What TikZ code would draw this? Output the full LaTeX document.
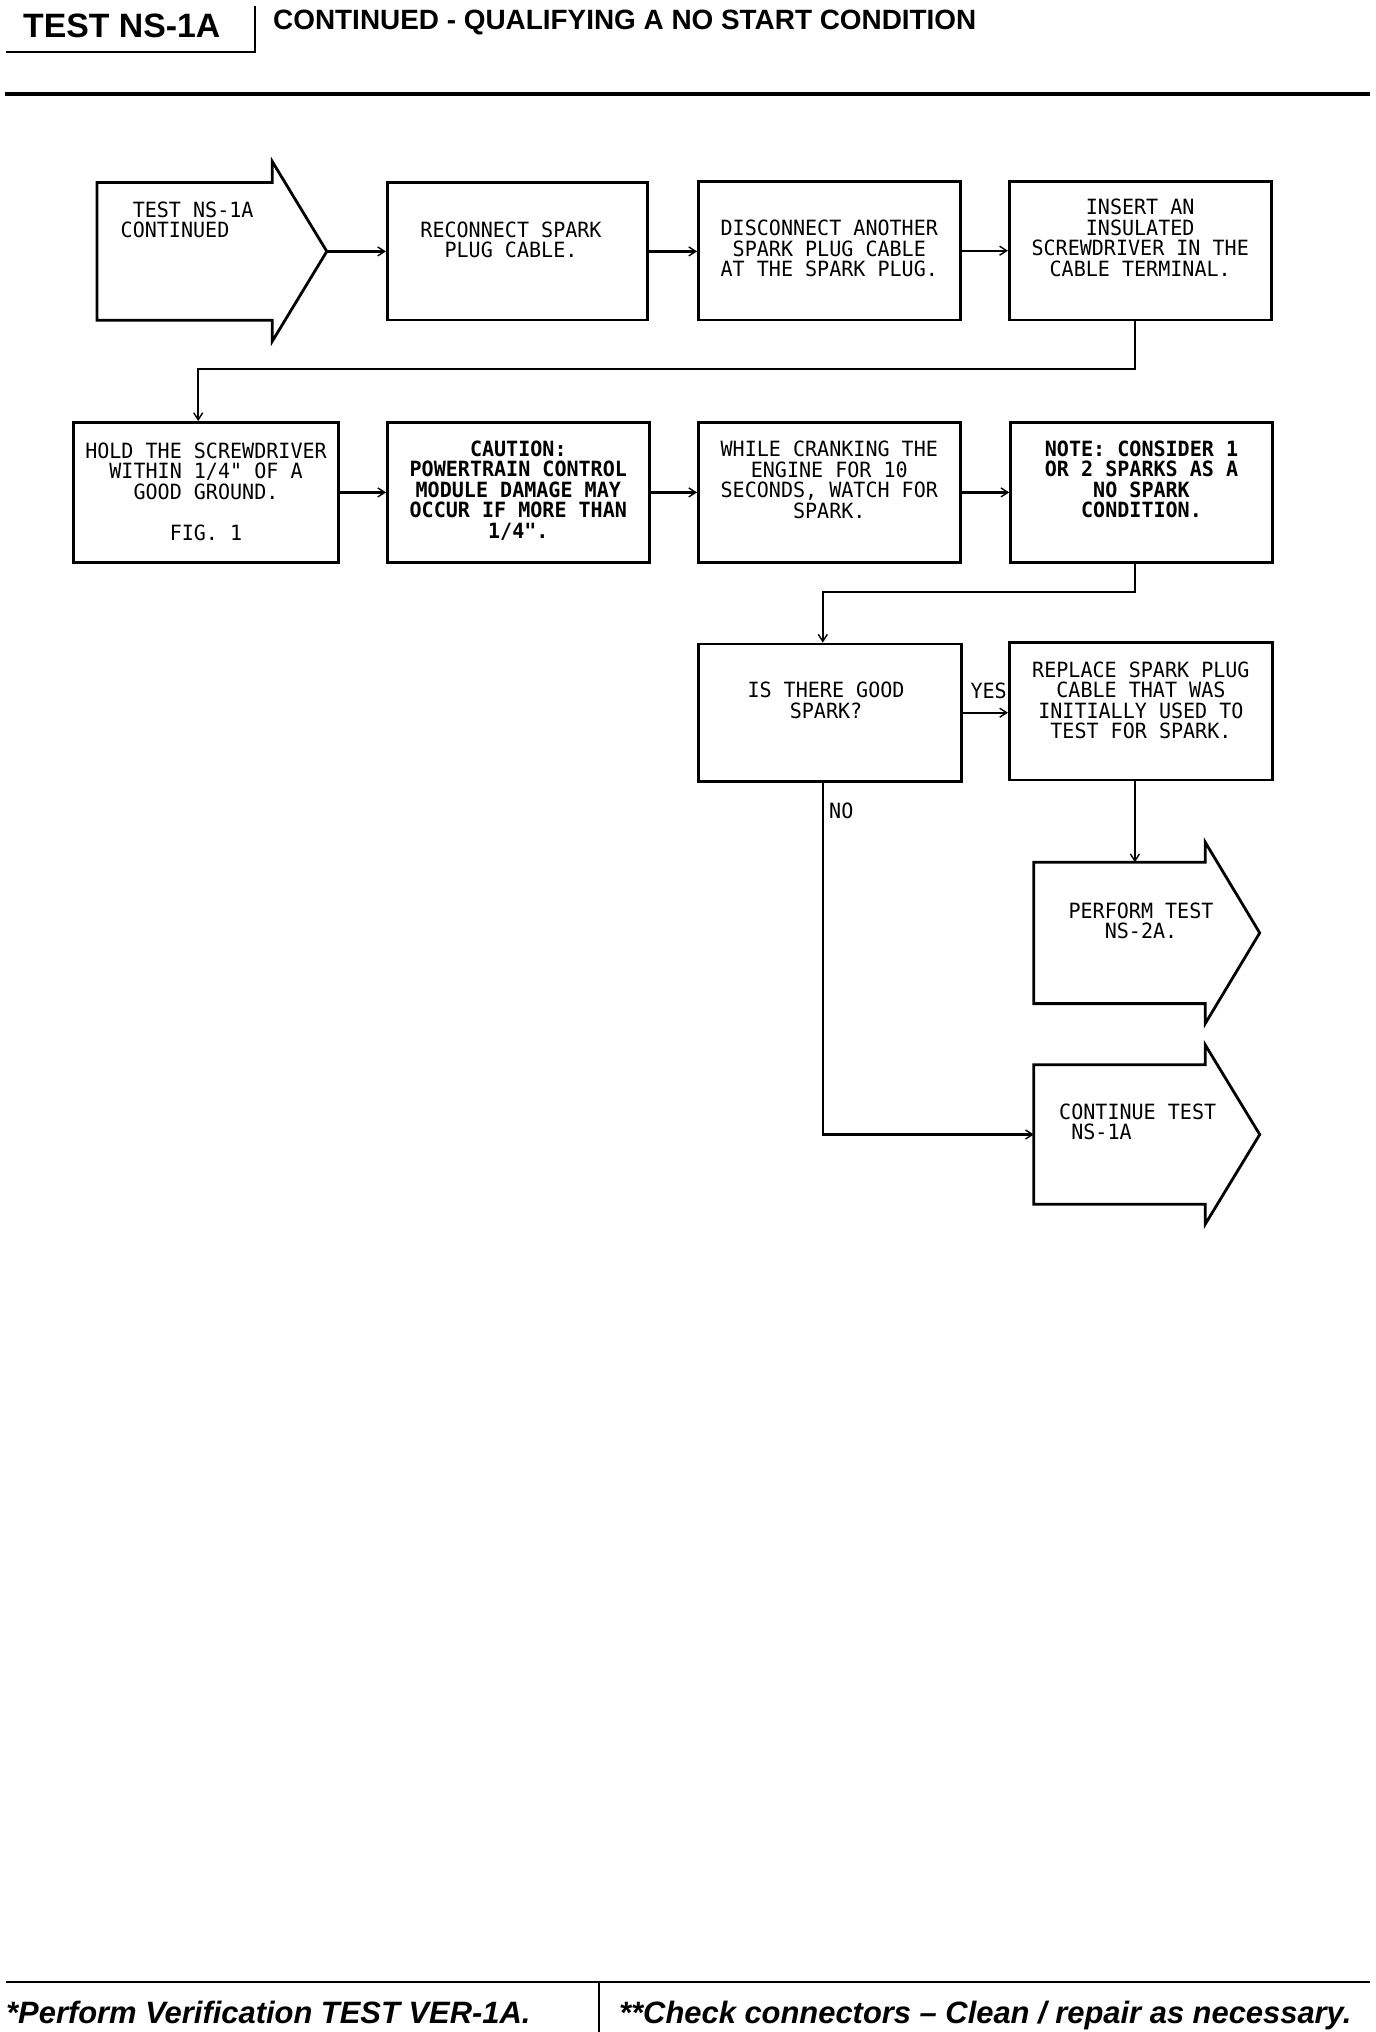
\documentclass[tikz,border=0pt]{standalone}
\usepackage{fontspec}
\usetikzlibrary{arrows.meta,calc}
\newfontfamily\plotfont[FakeStretch=0.955]{DejaVu Sans Mono}
\newfontfamily\hfont{Liberation Sans}
\begin{document}
\begin{tikzpicture}[x=1pt,y=-1pt,
  boxline/.style={line width=2.8pt, line join=miter},
  stepbox/.style={draw, boxline, rectangle, inner sep=0pt},
  abody/.style={rectangle, inner sep=0pt},
  conn/.style={line width=2.2pt, -{Straight Barb[length=7pt,width=9pt,line width=1.4pt]}},
  txt/.style={font=\plotfont\fontsize{21pt}{20.5pt}\selectfont, align=center, inner sep=0pt},
  txtb/.style={txt, font=\plotfont\bfseries\fontsize{21pt}{20.5pt}\selectfont},
  hdr/.style={inner sep=0pt, anchor=base west}
]
\useasboundingbox (0,0) rectangle (1376,2032);
\fill[white] (0,0) rectangle (1376,2032);

% header
\node[hdr, font=\hfont\bfseries\fontsize{33.8pt}{40pt}\selectfont] (title) at (23,37.5) {TEST NS-1A};
\node[hdr, font=\hfont\bfseries\fontsize{27.9pt}{33pt}\selectfont] (subtitle) at (273,29) {CONTINUED - QUALIFYING A NO START CONDITION};
\draw[line width=2pt] (6,52) -- (255,52) -- (255,6);
\draw[line width=3.5pt] (5,94) -- (1370,94);

% footer
\draw[line width=2.5pt] (6,1982) -- (1370,1982);
\draw[line width=2pt] (599,1982) -- (599,2032);
\node[hdr, font=\hfont\bfseries\itshape\fontsize{30.9pt}{36pt}\selectfont] (foot1) at (6,2023) {*Perform Verification TEST VER-1A.};
\node[hdr, font=\hfont\bfseries\itshape\fontsize{30.9pt}{36pt}\selectfont] (foot2) at (619,2023) {**Check connectors – Clean / repair as necessary.};

% arrow shapes
\node[abody, minimum width=175pt, minimum height=137.3pt] (a1) at (184.6,251.4) {};
\coordinate (a1tip) at ([xshift=54.5pt]a1.east);
\draw[boxline] (a1.north east) -- (a1.north west) -- (a1.south west) -- (a1.south east) -- ++(0,21) -- (a1tip) -- ([yshift=21pt]a1.north east) -- cycle;

\node[abody, minimum width=171pt, minimum height=141pt] (a2) at (1119.5,932.9) {};
\coordinate (a2tip) at ([xshift=54.5pt]a2.east);
\draw[boxline] (a2.north east) -- (a2.north west) -- (a2.south west) -- (a2.south east) -- ++(0,20) -- (a2tip) -- ([yshift=20pt]a2.north east) -- cycle;

\node[abody, minimum width=171pt, minimum height=139pt] (a3) at (1119.5,1134.5) {};
\coordinate (a3tip) at ([xshift=54.5pt]a3.east);
\draw[boxline] (a3.north east) -- (a3.north west) -- (a3.south west) -- (a3.south east) -- ++(0,20) -- (a3tip) -- ([yshift=20pt]a3.north east) -- cycle;

% boxes
\node[stepbox, minimum width=260.5pt, minimum height=137.3pt] (b2) at (517.6,251.4) {};
\node[stepbox, minimum width=261.7pt, minimum height=138.6pt] (b3) at (829.3,250.7) {};
\node[stepbox, minimum width=261.8pt, minimum height=138.6pt] (b4) at (1140.2,250.7) {};
\node[stepbox, minimum width=264.3pt, minimum height=139.9pt] (b5) at (206,492.4) {};
\node[stepbox, minimum width=261.7pt, minimum height=139.9pt] (b6) at (518.3,492.4) {};
\node[stepbox, minimum width=261.7pt, minimum height=139.9pt] (b7) at (829.3,492.4) {};
\node[stepbox, minimum width=261.8pt, minimum height=139.9pt] (b8) at (1141.5,492.4) {};
\node[stepbox, minimum width=263pt, minimum height=137.3pt] (b9) at (829.9,712.7) {};
\node[stepbox, minimum width=263.1pt, minimum height=137.3pt] (b10) at (1140.9,711.3) {};

% texts
\node[txt, align=left, anchor=west] (t1) at (120.5,220) {\phantom{T}TEST NS-1A\\CONTINUED};
\node[txt] (t2) at (511,239.7) {RECONNECT SPARK\\PLUG CABLE.};
\node[txt] (t3) at (829.3,248.8) {DISCONNECT ANOTHER\\SPARK PLUG CABLE\\AT THE SPARK PLUG.};
\node[txt] (t4) at (1140.2,237.8) {INSERT AN\\INSULATED\\SCREWDRIVER IN THE\\CABLE TERMINAL.};
\node[txt] (t5) at (206,491.7) {HOLD THE SCREWDRIVER\\WITHIN 1/4" OF A\\GOOD GROUND.\\[20.5pt]FIG. 1};
\node[txtb] (t6) at (518.3,490.4) {CAUTION:\\POWERTRAIN CONTROL\\MODULE DAMAGE MAY\\OCCUR IF MORE THAN\\1/4".};
\node[txt] (t7) at (829.3,480) {WHILE CRANKING THE\\ENGINE FOR 10\\SECONDS, WATCH FOR\\SPARK.};
\node[txtb] (t8) at (1141.5,479.4) {NOTE: CONSIDER 1\\OR 2 SPARKS AS A\\NO SPARK\\CONDITION.};
\node[txt] (t9) at (826,700.3) {IS THERE GOOD\\SPARK?};
\node[txt] (t10) at (1140.9,700.3) {REPLACE SPARK PLUG\\CABLE THAT WAS\\INITIALLY USED TO\\TEST FOR SPARK.};
\node[txt] (ta2) at (1141,920.6) {PERFORM TEST\\NS-2A.};
\node[txt, align=left, anchor=west] (ta3) at (1059,1122) {CONTINUE TEST\\\phantom{N}NS-1A};
\node[txt, anchor=east] (yes) at (1007,690.6) {YES};
\node[txt, anchor=west] (no) at (829,811) {NO};

% route points
\coordinate (r1) at (198.2,369.3);
\coordinate (r2) at (822.8,592.1);

% connectors
\draw[conn] (a1tip) -- (a1tip -| b2.west);
\draw[conn] (b2.east) -- (b2.east -| b3.west);
\draw[conn] (b3.east) -- (b3.east -| b4.west);
\draw[conn] ([xshift=-5.5pt]b4.south) |- (r1) -- (r1 |- b5.north);
\draw[conn] (b5.east) -- (b5.east -| b6.west);
\draw[conn] (b6.east) -- (b6.east -| b7.west);
\draw[conn] (b7.east) -- (b7.east -| b8.west);
\draw[conn] ([xshift=-6.5pt]b8.south) |- (r2) -- (r2 |- b9.north);
\draw[conn] (b9.east) -- (b9.east -| b10.west);
\draw[conn] ([xshift=-6pt]b10.south) -- ([xshift=-6pt]b10.south |- a2.north);
\draw[conn] (r2 |- b9.south) |- (a3.west);
\end{tikzpicture}
\end{document}
